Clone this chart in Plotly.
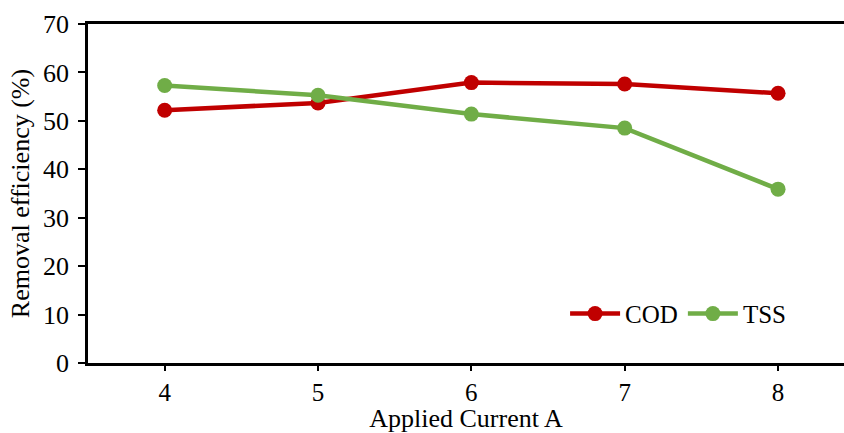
import plotly.graph_objects as go

current = [4, 5, 6, 7, 8]
cod = [52.2, 53.7, 57.9, 57.6, 55.7]
tss = [57.3, 55.3, 51.4, 48.5, 35.9]

y_ticks = [0, 10, 20, 30, 40, 50, 60, 70]

FONT = "'Liberation Serif', 'Times New Roman', Times, serif"

fig = go.Figure()
fig.add_trace(go.Scatter(x=current, y=cod, name="COD", mode="lines+markers",
                         line=dict(color="#C00000", width=4.5),
                         marker=dict(color="#C00000", size=15)))
fig.add_trace(go.Scatter(x=current, y=tss, name="TSS", mode="lines+markers",
                         line=dict(color="#70AD47", width=4.5),
                         marker=dict(color="#70AD47", size=15)))

fig.update_layout(
    width=844, height=433,
    margin=dict(l=88, r=0, t=24, b=70),
    plot_bgcolor="white", paper_bgcolor="white",
    font=dict(family=FONT, color="black", size=24),
    xaxis=dict(range=[3.5, 8.43], tickvals=current, ticktext=[str(c) for c in current],
               showline=True, linecolor="black", linewidth=2.5, mirror=True,
               ticks="outside", ticklen=5, tickwidth=2, tickcolor="black",
               showgrid=False, zeroline=False,
               tickfont=dict(family=FONT, size=25),
               title=dict(text="Applied Current A", font=dict(family=FONT, size=26), standoff=1)),
    yaxis=dict(range=[0, 70], tickvals=y_ticks,
               showline=True, linecolor="black", linewidth=2.5,
               ticks="outside", ticklen=7, tickwidth=2, tickcolor="black",
               ticklabelstandoff=4,
               showgrid=False, zeroline=False,
               tickfont=dict(family=FONT, size=26),
               title=dict(text="Removal efficiency (%)", font=dict(family=FONT, size=26), standoff=6)),
    legend=dict(orientation="h", x=0.93, xanchor="right", y=0.145, yanchor="middle",
                bgcolor="rgba(0,0,0,0)", font=dict(family=FONT, size=25), itemwidth=50,
                tracegroupgap=0),
    showlegend=True,
)

fig.write_html("out.html")
